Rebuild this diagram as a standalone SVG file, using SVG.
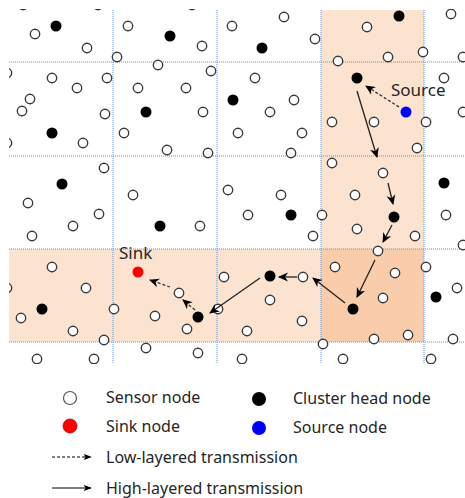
<svg xmlns="http://www.w3.org/2000/svg" width="465" height="498" viewBox="0 0 465 498">
<style>
.s{fill:#fff;stroke:#3a3a3a;stroke-width:1.4}
.c{fill:#000}
.grid line{stroke:#5b8fd6;stroke-width:1;stroke-dasharray:1 1}
.hi{stroke:#222;stroke-width:1.3;fill:none;marker-end:url(#ah)}
.lo{stroke:#333;stroke-width:1.3;fill:none;stroke-dasharray:3 2;marker-end:url(#ah)}
.lg{stroke:#000;stroke-width:1;fill:none;marker-end:url(#lah)}
.lgd{stroke:#000;stroke-width:1;fill:none;stroke-dasharray:3 2;marker-end:url(#lah)}
text{font-family:"Noto Sans","Open Sans","Liberation Sans",sans-serif;fill:#262626}
.lbl{font-size:17px}
.leg{font-size:16px}
</style>
<defs>
<marker id="ah" viewBox="0 0 10 10" refX="9" refY="5" markerWidth="10" markerHeight="10" markerUnits="userSpaceOnUse" orient="auto"><path d="M0,0.5 L10,5 L0,9.5 L3,5 z" fill="#000"/></marker>
<marker id="lah" viewBox="0 0 10 10" refX="9" refY="5" markerWidth="8" markerHeight="8" markerUnits="userSpaceOnUse" orient="auto"><path d="M0,1 L10,5 L0,9 L2,5 z" fill="#000"/></marker>
<clipPath id="area"><rect x="9" y="9" width="456" height="355"/></clipPath>
</defs>
<rect width="465" height="498" fill="#fff"/>
<g id="regions">
<rect x="321" y="10" width="103" height="239" fill="#fce3cf"/>
<rect x="9" y="249" width="312" height="93" fill="#fce3cf"/>
<rect x="321" y="249" width="103" height="93" fill="#f9cdab"/>
</g>
<g class="grid" id="grid">
<line x1="113" y1="10" x2="113" y2="364"/>
<line x1="217" y1="10" x2="217" y2="364"/>
<line x1="321" y1="10" x2="321" y2="364"/>
<line x1="424" y1="10" x2="424" y2="364"/>
<line x1="9" y1="62" x2="465" y2="62"/>
<line x1="9" y1="156" x2="465" y2="156"/>
<line x1="9" y1="249" x2="465" y2="249"/>
<line x1="9" y1="342" x2="465" y2="342"/>
</g>
<g id="nodes" clip-path="url(#area)">
<g id="s1"><circle class="s" cx="23" cy="5" r="4.7"/></g>
<g id="s2"><circle class="s" cx="98" cy="5" r="4.7"/></g>
<g id="s3"><circle class="s" cx="192" cy="5" r="4.7"/></g>
<g id="s4"><circle class="s" cx="35" cy="34" r="4.7"/></g>
<g id="s5"><circle class="s" cx="128" cy="26" r="4.7"/></g>
<g id="s6"><circle class="s" cx="87" cy="48" r="4.7"/></g>
<g id="s7"><circle class="s" cx="117" cy="57" r="4.7"/></g>
<g id="s8"><circle class="s" cx="158" cy="65" r="4.7"/></g>
<g id="s9"><circle class="s" cx="7" cy="73" r="4.7"/></g>
<g id="s10"><circle class="s" cx="52" cy="78" r="4.7"/></g>
<g id="s11"><circle class="s" cx="107" cy="78" r="4.7"/></g>
<g id="s12"><circle class="s" cx="77" cy="88" r="4.7"/></g>
<g id="s13"><circle class="s" cx="138" cy="88" r="4.7"/></g>
<g id="s14"><circle class="s" cx="30" cy="99" r="4.7"/></g>
<g id="s15"><circle class="s" cx="22" cy="111" r="4.7"/></g>
<g id="s16"><circle class="s" cx="105" cy="114" r="4.7"/></g>
<g id="s17"><circle class="s" cx="202" cy="46" r="4.7"/></g>
<g id="s18"><circle class="s" cx="232" cy="26" r="4.7"/></g>
<g id="s19"><circle class="s" cx="284" cy="17" r="4.7"/></g>
<g id="s20"><circle class="s" cx="211" cy="71" r="4.7"/></g>
<g id="s21"><circle class="s" cx="255" cy="78" r="4.7"/></g>
<g id="s22"><circle class="s" cx="186" cy="88" r="4.7"/></g>
<g id="s23"><circle class="s" cx="203" cy="112" r="4.7"/></g>
<g id="s24"><circle class="s" cx="294" cy="100" r="4.7"/></g>
<g id="s25"><circle class="s" cx="270" cy="112" r="4.7"/></g>
<g id="s26"><circle class="s" cx="451" cy="14" r="4.7"/></g>
<g id="s27"><circle class="s" cx="367" cy="27" r="4.7"/></g>
<g id="s28"><circle class="s" cx="315" cy="39" r="4.7"/></g>
<g id="s29"><circle class="s" cx="338" cy="61" r="4.7"/></g>
<g id="s30"><circle class="s" cx="388" cy="57" r="4.7"/></g>
<g id="s31"><circle class="s" cx="423" cy="52" r="4.7"/></g>
<g id="s32"><circle class="s" cx="463" cy="57" r="4.7"/></g>
<g id="s33"><circle class="s" cx="444" cy="78" r="4.7"/></g>
<g id="s34"><circle class="s" cx="332" cy="122" r="4.7"/></g>
<g id="s35"><circle class="s" cx="374" cy="122" r="4.7"/></g>
<g id="s36"><circle class="s" cx="426" cy="122" r="4.7"/></g>
<g id="s37"><circle class="s" cx="463" cy="112" r="4.7"/></g>
<g id="s38"><circle class="s" cx="7" cy="143" r="4.7"/></g>
<g id="s39"><circle class="s" cx="83" cy="143" r="4.7"/></g>
<g id="s40"><circle class="s" cx="124" cy="133" r="4.7"/></g>
<g id="s41"><circle class="s" cx="104" cy="168" r="4.7"/></g>
<g id="s42"><circle class="s" cx="133" cy="195" r="4.7"/></g>
<g id="s43"><circle class="s" cx="28" cy="203" r="4.7"/></g>
<g id="s44"><circle class="s" cx="99" cy="214" r="4.7"/></g>
<g id="s45"><circle class="s" cx="73" cy="226" r="4.7"/></g>
<g id="s46"><circle class="s" cx="32" cy="236" r="4.7"/></g>
<g id="s47"><circle class="s" cx="238" cy="133" r="4.7"/></g>
<g id="s48"><circle class="s" cx="302" cy="133" r="4.7"/></g>
<g id="s49"><circle class="s" cx="167" cy="150" r="4.7"/></g>
<g id="s50"><circle class="s" cx="208" cy="153" r="4.7"/></g>
<g id="s51"><circle class="s" cx="291" cy="153" r="4.7"/></g>
<g id="s52"><circle class="s" cx="228" cy="190" r="4.7"/></g>
<g id="s53"><circle class="s" cx="281" cy="195" r="4.7"/></g>
<g id="s54"><circle class="s" cx="248" cy="215" r="4.7"/></g>
<g id="s55"><circle class="s" cx="200" cy="226" r="4.7"/></g>
<g id="s56"><circle class="s" cx="313" cy="236" r="4.7"/></g>
<g id="s57"><circle class="s" cx="417" cy="148" r="4.7"/></g>
<g id="s58"><circle class="s" cx="332" cy="163" r="4.7"/></g>
<g id="s59"><circle class="s" cx="383" cy="173" r="4.7"/></g>
<g id="s60"><circle class="s" cx="355" cy="195" r="4.7"/></g>
<g id="s61"><circle class="s" cx="322" cy="215" r="4.7"/></g>
<g id="s62"><circle class="s" cx="446" cy="215" r="4.7"/></g>
<g id="s63"><circle class="s" cx="357" cy="229" r="4.7"/></g>
<g id="s64"><circle class="s" cx="415" cy="236" r="4.7"/></g>
<g id="s65"><circle class="s" cx="463" cy="245" r="4.7"/></g>
<g id="s66"><circle class="s" cx="378" cy="251" r="4.7"/></g>
<g id="s67"><circle class="s" cx="52" cy="267" r="4.7"/></g>
<g id="s68"><circle class="s" cx="7" cy="288" r="4.7"/></g>
<g id="s69"><circle class="s" cx="86" cy="288" r="4.7"/></g>
<g id="s70"><circle class="s" cx="114" cy="309" r="4.7"/></g>
<g id="s71"><circle class="s" cx="21" cy="318" r="4.7"/></g>
<g id="s72"><circle class="s" cx="73" cy="331" r="4.7"/></g>
<g id="s73"><circle class="s" cx="104" cy="340" r="4.7"/></g>
<g id="s74"><circle class="s" cx="155" cy="316" r="4.7"/></g>
<g id="s75"><circle class="s" cx="146" cy="348" r="4.7"/></g>
<g id="s76"><circle class="s" cx="37" cy="359" r="4.7"/></g>
<g id="s77"><circle class="s" cx="94" cy="359" r="4.7"/></g>
<g id="s78"><circle class="s" cx="224" cy="277" r="4.7"/></g>
<g id="s79"><circle class="s" cx="303" cy="277" r="4.7"/></g>
<g id="s80"><circle class="s" cx="270" cy="300" r="4.7"/></g>
<g id="s81"><circle class="s" cx="179" cy="293" r="4.7"/></g>
<g id="s82"><circle class="s" cx="218" cy="309" r="4.7"/></g>
<g id="s83"><circle class="s" cx="187" cy="329" r="4.7"/></g>
<g id="s84"><circle class="s" cx="247" cy="331" r="4.7"/></g>
<g id="s85"><circle class="s" cx="302" cy="321" r="4.7"/></g>
<g id="s86"><circle class="s" cx="198" cy="353" r="4.7"/></g>
<g id="s87"><circle class="s" cx="242" cy="359" r="4.7"/></g>
<g id="s88"><circle class="s" cx="335" cy="267" r="4.7"/></g>
<g id="s89"><circle class="s" cx="395" cy="273" r="4.7"/></g>
<g id="s90"><circle class="s" cx="426" cy="267" r="4.7"/></g>
<g id="s91"><circle class="s" cx="457" cy="288" r="4.7"/></g>
<g id="s92"><circle class="s" cx="383" cy="298" r="4.7"/></g>
<g id="s93"><circle class="s" cx="374" cy="339" r="4.7"/></g>
<g id="s94"><circle class="s" cx="408" cy="335" r="4.7"/></g>
<g id="s95"><circle class="s" cx="453" cy="339" r="4.7"/></g>
<g id="s96"><circle class="s" cx="323" cy="344" r="4.7"/></g>
<g id="s97"><circle class="s" cx="343" cy="359" r="4.7"/></g>
<g id="s98"><circle class="s" cx="431" cy="359" r="4.7"/></g>
<g id="h1"><circle class="c" cx="56" cy="26" r="5.5"/></g>
<g id="h2"><circle class="c" cx="146" cy="112" r="5.5"/></g>
<g id="h3"><circle class="c" cx="52" cy="133" r="5.5"/></g>
<g id="h4"><circle class="c" cx="62" cy="184" r="5.5"/></g>
<g id="h5"><circle class="c" cx="170" cy="36" r="5.5"/></g>
<g id="h6"><circle class="c" cx="262" cy="48" r="5.5"/></g>
<g id="h7"><circle class="c" cx="233" cy="100" r="5.5"/></g>
<g id="h8"><circle class="c" cx="160" cy="226" r="5.5"/></g>
<g id="h9"><circle class="c" cx="291" cy="215" r="5.5"/></g>
<g id="h10"><circle class="c" cx="399" cy="16" r="5.5"/></g>
<g id="h11"><circle class="c" cx="357" cy="78" r="5.5"/></g>
<g id="h12"><circle class="c" cx="444" cy="183" r="5.5"/></g>
<g id="h13"><circle class="c" cx="394" cy="217" r="5.5"/></g>
<g id="h14"><circle class="c" cx="436" cy="297" r="5.5"/></g>
<g id="h15"><circle class="c" cx="353" cy="309" r="5.5"/></g>
<g id="h16"><circle class="c" cx="270" cy="276" r="5.5"/></g>
<g id="h17"><circle class="c" cx="198" cy="317" r="5.5"/></g>
<g id="h18"><circle class="c" cx="42" cy="309" r="5.5"/></g>
<g id="sink"><circle cx="138" cy="272" r="5.5" fill="#ff0000"/><text class="lbl" x="119" y="259">Sink</text></g>
<g id="source"><circle cx="406" cy="112" r="5.5" fill="#0000ff"/><text class="lbl" x="391" y="96">Source</text></g>
</g>
<g id="connectors">
<line class="lo" x1="399" y1="107" x2="366" y2="86"/>
<line class="hi" x1="357" y1="91" x2="377" y2="157"/>
<line class="hi" x1="388" y1="183" x2="393" y2="204"/>
<line class="hi" x1="392" y1="225" x2="383" y2="242"/>
<line class="hi" x1="375" y1="260" x2="357" y2="297"/>
<line class="hi" x1="345" y1="303" x2="313" y2="278"/>
<line class="hi" x1="297" y1="277" x2="279" y2="277"/>
<line class="hi" x1="260" y1="278" x2="210" y2="313"/>
<line class="lo" x1="195" y1="310" x2="183" y2="300"/>
<line class="lo" x1="170" y1="287" x2="150" y2="280"/>
</g>
<g id="legend">
<g id="leg-sensor"><circle cx="70" cy="398" r="6.5" fill="#fff" stroke="#555" stroke-width="1.2"/><text class="leg" x="106" y="403">Sensor node</text></g>
<g id="leg-ch"><circle cx="259" cy="399" r="7" fill="#000"/><text class="leg" x="293" y="404">Cluster head node</text></g>
<g id="leg-sink"><circle cx="70" cy="426" r="7" fill="#ff0000" stroke="#c00000" stroke-width="0.8"/><text class="leg" x="106" y="432">Sink node</text></g>
<g id="leg-source"><circle cx="259" cy="428" r="7" fill="#0000ff"/><text class="leg" x="293" y="433">Source node</text></g>
<g id="leg-low"><line class="lgd" x1="52" y1="457" x2="91" y2="457"/><text class="leg" x="106" y="463">Low-layered transmission</text></g>
<g id="leg-high"><line class="lg" x1="52" y1="488" x2="91" y2="488"/><text class="leg" x="106" y="494">High-layered transmission</text></g>
</g>
</svg>
